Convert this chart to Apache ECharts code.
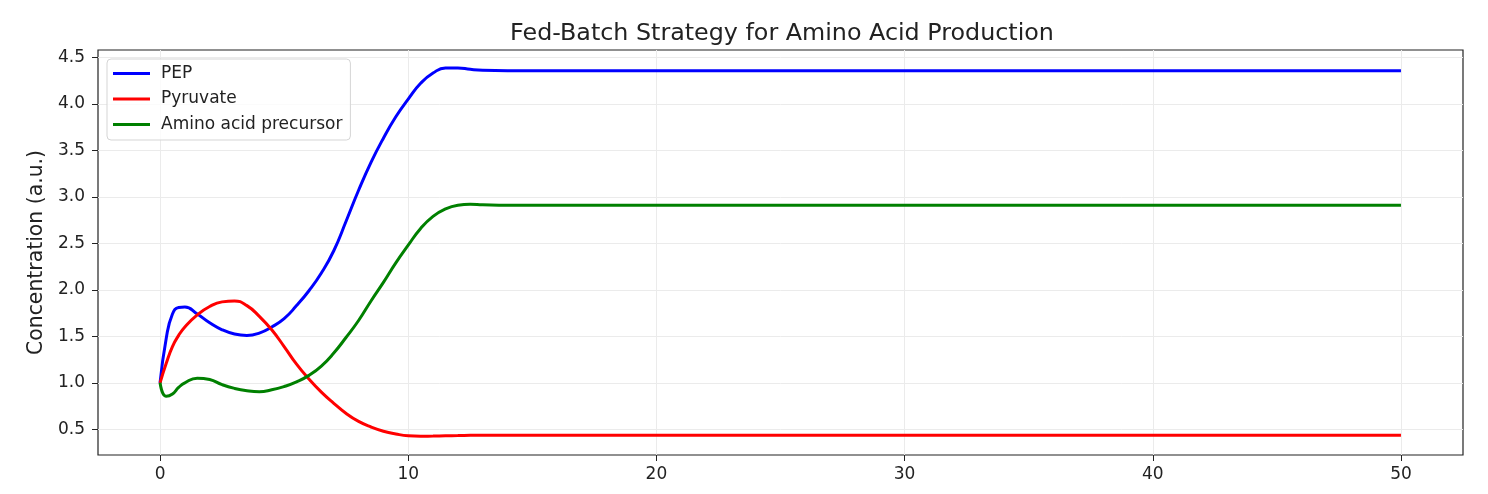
<!DOCTYPE html>
<html>
<head>
<meta charset="utf-8">
<script src="https://cdn.jsdelivr.net/npm/echarts@6/dist/echarts.min.js"></script>
<style>
  html, body { margin: 0; padding: 0; background: #fff; }
  #chart { width: 1488px; height: 494px; }
</style>
</head>
<body>
<div id="chart"></div>
<script>
// time points
const time = [0, 0.25, 0.5, 0.75, 1, 1.5, 2, 2.5, 3, 3.5, 4, 4.5, 5, 5.5, 6, 6.5, 7, 7.5, 8, 8.5,
  9, 9.5, 10, 10.5, 11, 11.5, 12, 12.5, 13, 14, 15, 20, 30, 40, 50];

const pep = [1.0, 1.48, 1.74, 1.81, 1.815, 1.74, 1.645, 1.57, 1.525, 1.51, 1.535, 1.60, 1.69, 1.83, 1.99,
  2.18, 2.42, 2.74, 3.07, 3.37, 3.63, 3.86, 4.05, 4.22, 4.33, 4.385, 4.385, 4.37, 4.36, 4.355,
  4.355, 4.355, 4.355, 4.355, 4.355];

const pyruvate = [1.0, 1.21, 1.39, 1.51, 1.60, 1.73, 1.82, 1.87, 1.88, 1.83, 1.715, 1.57, 1.39, 1.20, 1.04,
  0.90, 0.78, 0.67, 0.585, 0.525, 0.48, 0.45, 0.43, 0.425, 0.428, 0.431, 0.433, 0.435, 0.436, 0.437,
  0.437, 0.437, 0.437, 0.437, 0.437];

const precursor = [1.0, 0.855, 0.88, 0.95, 1.0, 1.05, 1.035, 0.98, 0.94, 0.915, 0.905, 0.925, 0.96, 1.01, 1.08,
  1.18, 1.32, 1.49, 1.67, 1.88, 2.08, 2.29, 2.48, 2.66, 2.79, 2.87, 2.91, 2.92, 2.915, 2.91,
  2.91, 2.91, 2.91, 2.91, 2.91];

const xTicks = [0, 10, 20, 30, 40, 50];
const yTicks = [0.5, 1.0, 1.5, 2.0, 2.5, 3.0, 3.5, 4.0, 4.5];

const font = 'DejaVu Sans';

function pairs(ys) {
  return time.map((t, i) => [t, ys[i]]);
}

const chart = echarts.init(document.getElementById('chart'), null, { renderer: 'canvas' });

const option = {
  animation: false,
  backgroundColor: '#fff',
  title: {
    text: 'Fed-Batch Strategy for Amino Acid Production',
    left: 777,
    top: 17,
    textAlign: 'center',
    textStyle: { fontFamily: font, fontSize: 23.8, fontWeight: 'normal', color: '#222' }
  },
  grid: {
    left: 98,
    right: 25,
    top: 50,
    bottom: 39,
    show: true,
    borderColor: '#222',
    borderWidth: 1.2,
    containLabel: false
  },
  legend: {
    orient: 'vertical',
    left: 107,
    top: 59,
    padding: [6, 8, 7, 6],
    itemWidth: 37,
    itemHeight: 3,
    itemGap: 8.5,
    icon: 'rect',
    borderColor: '#d5d5d5',
    borderWidth: 1,
    borderRadius: 4,
    backgroundColor: 'rgba(255,255,255,0.8)',
    textStyle: { fontFamily: font, fontSize: 17, color: '#222', lineHeight: 17, padding: [0, 0, 0, 6] },
    data: ['PEP', 'Pyruvate', 'Amino acid precursor']
  },
  xAxis: {
    type: 'value',
    min: -2.5,
    max: 52.5,
    axisLine: { show: false, onZero: false },
    axisTick: { show: true, length: 6, lineStyle: { color: '#222' }, customValues: xTicks },
    axisLabel: { fontFamily: font, fontSize: 17, color: '#222', margin: 11, customValues: xTicks },
    splitLine: { show: true, lineStyle: { color: '#ebebeb', width: 1 } }
  },
  yAxis: {
    type: 'value',
    min: 0.224,
    max: 4.578,
    name: 'Concentration (a.u.)',
    nameLocation: 'middle',
    nameGap: 45,
    nameTextStyle: { fontFamily: font, fontSize: 20.4, color: '#222' },
    axisLine: { show: false, onZero: false },
    axisTick: { show: true, length: 6, lineStyle: { color: '#222' }, customValues: yTicks },
    axisLabel: {
      fontFamily: font, fontSize: 17, color: '#222', margin: 13, customValues: yTicks,
      formatter: v => v.toFixed(1)
    },
    splitLine: { show: true, lineStyle: { color: '#ebebeb', width: 1 } }
  },
  series: [
    { name: 'PEP', type: 'line', data: pairs(pep), color: '#0000ff' },
    { name: 'Pyruvate', type: 'line', data: pairs(pyruvate), color: '#ff0000' },
    { name: 'Amino acid precursor', type: 'line', data: pairs(precursor), color: '#008000' }
  ].map(s => Object.assign(s, {
    showSymbol: false,
    smooth: 0.5,
    lineStyle: { width: 3 },
    emphasis: { disabled: true }
  }))
};

chart.setOption(option);
</script>
</body>
</html>
